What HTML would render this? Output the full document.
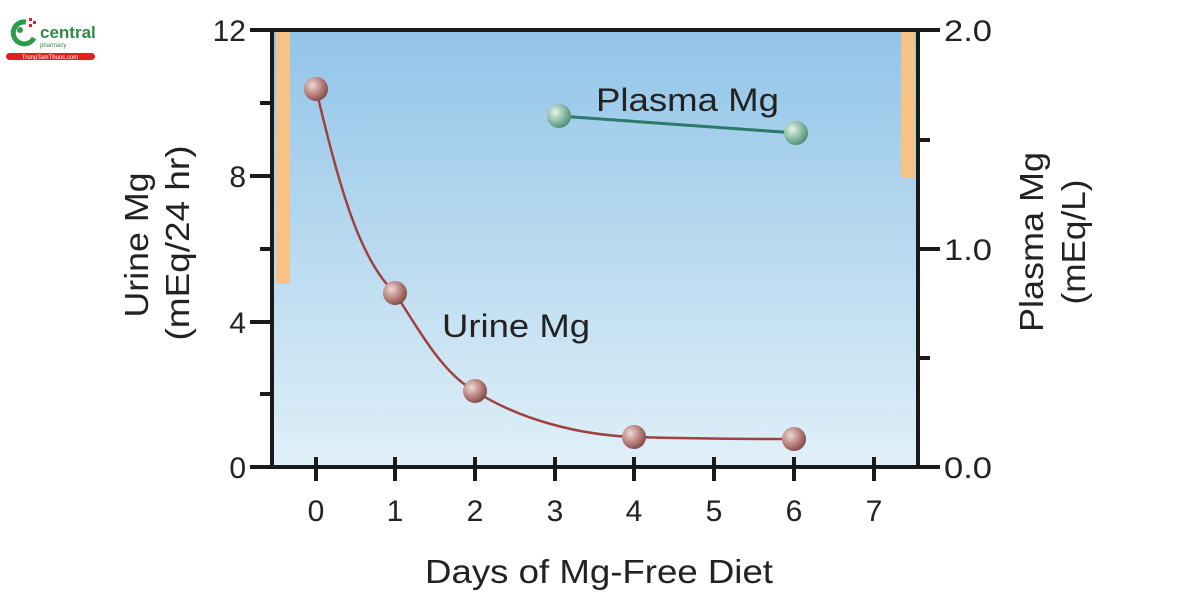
<!DOCTYPE html>
<html><head><style>body{margin:0;background:#fff}svg{display:block}text{font-family:"Liberation Sans",sans-serif;fill:#222}</style></head><body>
<svg width="1200" height="604" viewBox="0 0 1200 604">
<defs>
<linearGradient id="bg" x1="0" y1="0" x2="0" y2="1"><stop offset="0" stop-color="#92c4e8"/><stop offset="1" stop-color="#e0f0f8"/></linearGradient>
<radialGradient id="rb" cx="0.35" cy="0.35" r="0.7"><stop offset="0" stop-color="#f1d9d6"/><stop offset="0.6" stop-color="#b57d78"/><stop offset="1" stop-color="#7d4a47"/></radialGradient>
<radialGradient id="gb" cx="0.35" cy="0.35" r="0.7"><stop offset="0" stop-color="#e4f3ea"/><stop offset="0.6" stop-color="#86b8a0"/><stop offset="1" stop-color="#4f8a70"/></radialGradient>
</defs>
<rect x="272" y="30" width="646" height="437" fill="url(#bg)"/>
<rect x="276" y="32" width="14" height="252" fill="#f7c285"/>
<rect x="901" y="32" width="14" height="146" fill="#f7c285"/>
<g stroke="#1a1a1a" stroke-width="4" fill="none">
<line x1="250" y1="30" x2="940" y2="30"/>
<line x1="272" y1="28" x2="272" y2="469"/>
<line x1="918" y1="28" x2="918" y2="469"/>
<line x1="250" y1="467" x2="940" y2="467"/>
<line x1="250" y1="176" x2="272" y2="176"/><line x1="250" y1="322" x2="272" y2="322"/>
<line x1="260" y1="103" x2="272" y2="103"/><line x1="260" y1="249" x2="272" y2="249"/><line x1="260" y1="394" x2="272" y2="394"/>
<line x1="918" y1="249" x2="940" y2="249"/><line x1="918" y1="140" x2="930" y2="140"/><line x1="918" y1="358" x2="930" y2="358"/>
<line x1="316" y1="457" x2="316" y2="481"/><line x1="395" y1="457" x2="395" y2="481"/><line x1="475" y1="457" x2="475" y2="481"/><line x1="555" y1="457" x2="555" y2="481"/><line x1="634" y1="457" x2="634" y2="481"/><line x1="714" y1="457" x2="714" y2="481"/><line x1="794" y1="457" x2="794" y2="481"/><line x1="874" y1="457" x2="874" y2="481"/>
</g>
<path d="M316,89 C340,190 360,260 395,293 C425,340 445,375 475,391 C520,420 580,435 634,437 C700,439 760,439 794,439" stroke="#a0403f" stroke-width="2.5" fill="none"/>
<line x1="559" y1="116" x2="796" y2="133" stroke="#2a7a68" stroke-width="3"/>
<g fill="url(#rb)"><circle cx="316" cy="89" r="12"/><circle cx="395" cy="293" r="12"/><circle cx="475" cy="391" r="12"/><circle cx="634" cy="437" r="12"/><circle cx="794" cy="439" r="12"/></g>
<g fill="url(#gb)"><circle cx="559" cy="116" r="12"/><circle cx="796" cy="133" r="12"/></g>
<text x="596" y="111" font-size="32" textLength="183" lengthAdjust="spacingAndGlyphs">Plasma Mg</text>
<text x="442" y="337" font-size="32" textLength="148" lengthAdjust="spacingAndGlyphs">Urine Mg</text>
<g font-size="30" text-anchor="end"><text x="246" y="41">12</text><text x="246" y="187">8</text><text x="246" y="333">4</text><text x="246" y="478">0</text></g>
<g font-size="30"><text x="944" y="41" textLength="48" lengthAdjust="spacingAndGlyphs">2.0</text><text x="944" y="260" textLength="48" lengthAdjust="spacingAndGlyphs">1.0</text><text x="944" y="478" textLength="48" lengthAdjust="spacingAndGlyphs">0.0</text></g>
<g font-size="30" text-anchor="middle"><text x="316" y="521">0</text><text x="395" y="521">1</text><text x="475" y="521">2</text><text x="555" y="521">3</text><text x="634" y="521">4</text><text x="714" y="521">5</text><text x="794" y="521">6</text><text x="874" y="521">7</text></g>
<text x="425" y="583" font-size="33" textLength="348" lengthAdjust="spacingAndGlyphs">Days of Mg-Free Diet</text>
<g font-size="33" text-anchor="middle">
<text transform="translate(148,245) rotate(-90)" textLength="145" lengthAdjust="spacingAndGlyphs">Urine Mg</text>
<text transform="translate(189,243) rotate(-90)" textLength="195" lengthAdjust="spacingAndGlyphs">(mEq/24 hr)</text>
<text transform="translate(1043,242) rotate(-90)" textLength="180" lengthAdjust="spacingAndGlyphs">Plasma Mg</text>
<text transform="translate(1085,242) rotate(-90)" textLength="125" lengthAdjust="spacingAndGlyphs">(mEq/L)</text>
</g>
<path d="M26,22 A11,11 0 1 0 34,38" stroke="#2e9a4a" stroke-width="5" fill="none"/>
<circle cx="20" cy="30" r="3" fill="#2e9a4a"/>
<g fill="#e02020"><rect x="29" y="18" width="3" height="3"/><rect x="33" y="21" width="3" height="3"/><rect x="29" y="24" width="3" height="3"/></g>
<text x="40" y="38" font-size="17" font-weight="bold" style="fill:#2e8a4a">central</text>
<text x="40" y="47" font-size="6" style="fill:#2e8a4a">pharmacy</text>
<rect x="6" y="53" width="89" height="7" rx="3.5" fill="#e02020"/>
<text x="50" y="59" font-size="6" text-anchor="middle" style="fill:#fff">TrungTamThuoc.com</text>
</svg>
</body></html>
